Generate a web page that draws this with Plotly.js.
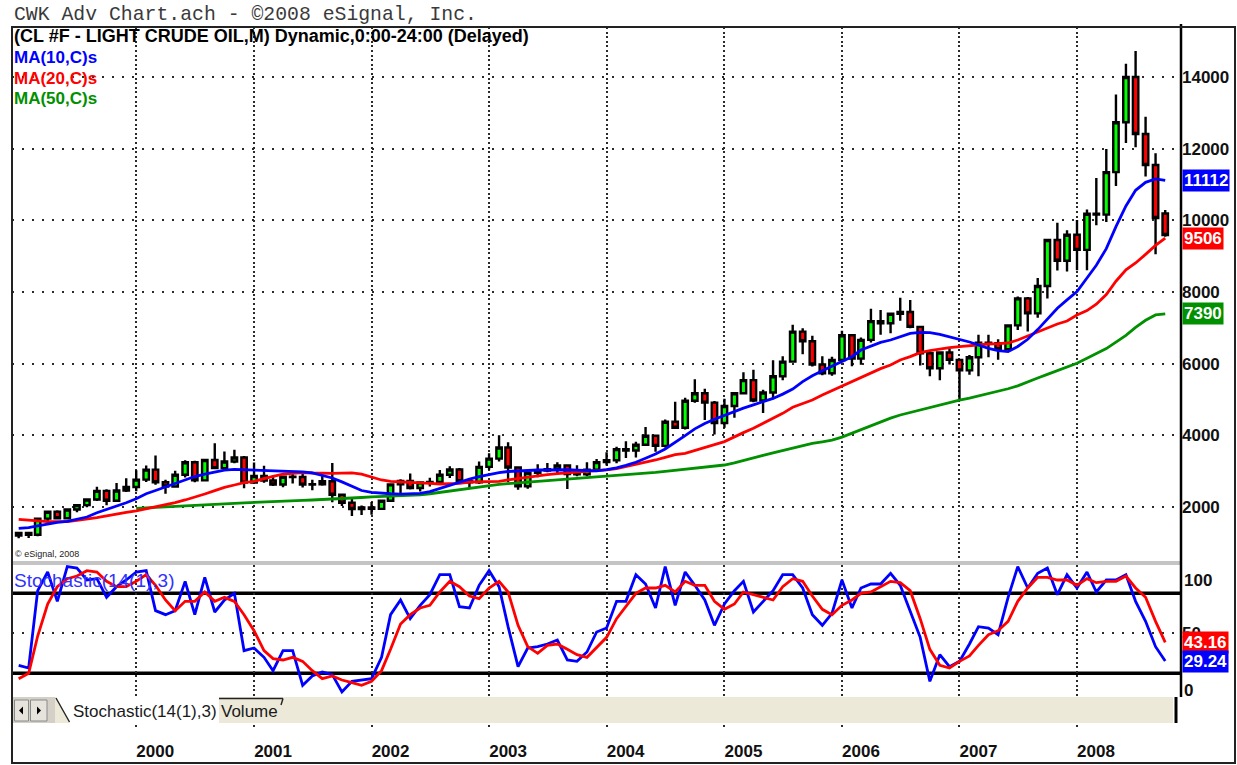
<!DOCTYPE html>
<html>
<head>
<meta charset="utf-8">
<script src="https://cdn.plot.ly/plotly-3.0.1.min.js"></script>
<style>
html,body{margin:0;padding:0;background:#fff;overflow:hidden;}
#chart{width:1237px;height:765px;}
</style>
</head>
<body>
<div id="chart"></div>
<script>
// ---------------- DATA (monthly, CL #F light crude oil, price in cents) ----------------
const months = [
'1999-01','1999-02','1999-03','1999-04','1999-05','1999-06','1999-07','1999-08','1999-09','1999-10','1999-11','1999-12',
'2000-01','2000-02','2000-03','2000-04','2000-05','2000-06','2000-07','2000-08','2000-09','2000-10','2000-11','2000-12',
'2001-01','2001-02','2001-03','2001-04','2001-05','2001-06','2001-07','2001-08','2001-09','2001-10','2001-11','2001-12',
'2002-01','2002-02','2002-03','2002-04','2002-05','2002-06','2002-07','2002-08','2002-09','2002-10','2002-11','2002-12',
'2003-01','2003-02','2003-03','2003-04','2003-05','2003-06','2003-07','2003-08','2003-09','2003-10','2003-11','2003-12',
'2004-01','2004-02','2004-03','2004-04','2004-05','2004-06','2004-07','2004-08','2004-09','2004-10','2004-11','2004-12',
'2005-01','2005-02','2005-03','2005-04','2005-05','2005-06','2005-07','2005-08','2005-09','2005-10','2005-11','2005-12',
'2006-01','2006-02','2006-03','2006-04','2006-05','2006-06','2006-07','2006-08','2006-09','2006-10','2006-11','2006-12',
'2007-01','2007-02','2007-03','2007-04','2007-05','2007-06','2007-07','2007-08','2007-09','2007-10','2007-11','2007-12',
'2008-01','2008-02','2008-03','2008-04','2008-05','2008-06','2008-07','2008-08','2008-09','2008-10'];

const openP = [
1205,1275,1227,1676,1866,1684,1929,2053,2210,2451,2175,2459,
2560,2764,3043,2690,2574,2901,3250,2743,3312,3084,3270,3382,
2680,2866,2739,2629,2846,2837,2625,2635,2720,2343,2118,1944,
1984,1948,2174,2631,2729,2531,2686,2702,2898,3045,2722,2689,
3120,3351,3660,3104,2580,2956,3019,3054,3157,2920,2911,3041,
3252,3305,3616,3576,3738,3988,3705,4380,4212,4964,5176,4913,
4345,4820,5175,5540,4972,5197,5650,6057,6894,6624,5976,5732,
6104,6792,6141,6663,7188,7129,7393,7440,7026,6291,5873,6313,
6105,5814,6179,6587,6571,6401,7068,7821,7404,8166,9453,8871,
9598,9175,10184,10158,11346,12735,14000,12408,11546,10190];
const highP = [
1307,1306,1683,1896,1910,1938,2085,2247,2565,2494,2670,2800,
3025,3158,3437,2760,3010,3305,3290,3340,3780,3550,3600,3420,
3240,3150,2880,2850,2998,2925,2760,2865,3230,2380,2280,2040,
2140,2190,2660,2775,2935,2700,2815,3035,3135,3090,2810,3270,
3500,3999,3810,3120,2990,3190,3230,3250,3160,3165,3250,3340,
3525,3680,3835,3820,4233,4000,4440,4940,5047,5567,5300,4960,
5020,5210,5760,5828,5270,6095,6210,7085,6990,6780,6210,6190,
6920,6820,6730,7535,7495,7415,7840,7780,7040,6380,6250,6410,
6120,6240,6810,6810,6680,7070,7877,7860,8390,9474,9929,9720,
10009,10305,11180,11993,13509,14367,14727,12890,11870,10290];
const lowP = [
1126,1137,1185,1542,1660,1680,1855,1990,2170,2050,2150,2420,
2438,2700,2620,2370,2550,2820,2690,2730,3110,3040,3220,2520,
2650,2680,2585,2550,2655,2545,2470,2590,2135,2030,1750,1780,
1785,1930,2140,2350,2490,2430,2570,2630,2810,2660,2500,2640,
3040,3270,2690,2480,2510,2830,2970,2900,2500,2860,2860,3000,
3160,3220,3365,3380,3730,3540,3660,4200,4160,4910,4430,4025,
4210,4490,5140,4920,4620,5010,5540,6060,6260,5920,5680,5665,
6080,5930,5970,6590,6810,6850,7200,6990,5950,5650,5540,5980,
4990,5690,5650,6180,6110,6400,6940,6900,7280,7820,8600,8570,
8610,8610,9865,9955,10960,12160,12040,11220,9050,9545];
const closeP = [
1275,1227,1676,1866,1684,1929,2053,2210,2451,2175,2459,2560,
2764,3043,2690,2574,2901,3250,2743,3312,3084,3270,3382,2680,
2866,2739,2629,2846,2837,2625,2635,2720,2343,2118,1944,1984,
1948,2174,2631,2729,2531,2686,2702,2898,3045,2722,2689,3120,
3351,3660,3104,2580,2956,3019,3054,3157,2920,2911,3041,3252,
3305,3616,3576,3738,3988,3705,4380,4212,4964,5176,4913,4345,
4820,5175,5540,4972,5197,5650,6057,6894,6624,5976,5732,6104,
6792,6141,6663,7188,7129,7393,7440,7026,6291,5873,6313,6105,
5814,6179,6587,6571,6401,7068,7821,7404,8166,9453,8871,9598,
9175,10184,10158,11346,12735,14000,12408,11546,10064,9590];

const ma10 = [
1405,1425,1470,1530,1570,1600,1650,1720,1840,1930,2010,2120,
2230,2370,2460,2560,2660,2760,2850,2920,2980,3030,3050,3040,
3030,3015,3010,3010,3000,2980,2950,2890,2810,2700,2570,2460,
2410,2385,2370,2360,2360,2380,2430,2520,2620,2700,2780,2850,
2910,2960,2990,3010,3030,3033,3033,3040,3040,3030,3010,3010,
3040,3090,3160,3250,3360,3480,3620,3800,3990,4180,4330,4450,
4560,4660,4760,4850,4940,5030,5150,5290,5500,5660,5800,5935,
6075,6195,6380,6500,6595,6660,6750,6847,6875,6865,6820,6754,
6680,6605,6521,6428,6363,6335,6480,6680,6950,7250,7545,7780,
8010,8391,8745,9210,9824,10400,10838,11061,11154,11112];
const ma20 = [
1656,1637,1600,1591,1591,1591,1628,1656,1703,1749,1805,1851,
1889,1944,2000,2047,2121,2196,2289,2363,2456,2549,2614,2679,
2717,2800,2855,2920,2950,2960,2949,2940,2940,2945,2950,2915,
2828,2754,2717,2707,2698,2680,2661,2642,2642,2661,2698,2707,
2707,2717,2754,2791,2847,2875,2903,2931,2949,2968,2986,3014,
3033,3070,3126,3182,3247,3312,3386,3461,3498,3572,3656,3740,
3824,3963,4075,4196,4335,4475,4614,4782,4880,4986,5126,5247,
5377,5498,5619,5749,5861,5963,6102,6196,6307,6363,6410,6447,
6475,6502,6530,6549,6558,6577,6661,6772,6893,7005,7107,7191,
7359,7480,7660,7930,8300,8620,8810,9050,9300,9506];
const ma50 = [
null,null,null,null,null,null,null,null,null,null,null,null,
1963,1975,1990,2005,2015,2030,2045,2060,2070,2085,2100,2115,
2130,2145,2155,2165,2175,2185,2195,2205,2215,2230,2245,2265,
2280,2290,2300,2307,2318,2340,2370,2410,2450,2490,2530,2560,
2590,2630,2655,2675,2700,2720,2740,2755,2775,2795,2815,2840,
2860,2875,2890,2910,2940,2965,2995,3025,3055,3085,3110,3140,
3172,3230,3290,3360,3440,3510,3580,3650,3720,3777,3820,3865,
3950,4060,4170,4280,4380,4480,4568,4640,4710,4780,4850,4910,
4980,5040,5100,5150,5220,5300,5380,5500,5600,5700,5800,5898,
6010,6150,6280,6420,6600,6790,7010,7210,7360,7390];

const stochK = [
26,24,82,96,74,100,99,90,91,77,85,90,
96,97,67,64,67,89,64,92,66,75,80,37,
39,32,22,37,37,11,18,21,19,6,14,15,
16,32,64,75,61,71,79,94,94,70,69,86,
97,85,55,25,39,40,42,45,30,29,36,51,
54,74,74,94,87,69,100,71,96,86,75,56,
72,82,89,66,74,82,94,94,84,64,56,65,
90,69,84,87,87,95,86,67,47,14,34,25,
29,42,55,54,49,77,100,84,95,99,79,94,
84,96,81,90,90,94,74,59,40,29.24];
const stochD = [
16,20,48,72,85,91,93,97,96,89,85,85,
89,94,86,75,67,74,74,81,74,77,74,64,
52,37,31,30,32,29,22,16,18,15,13,11,
14,22,38,57,64,69,71,81,89,85,78,76,
84,89,81,56,40,35,41,42,38,34,32,39,
47,61,70,80,84,84,86,81,89,86,86,74,
68,72,81,79,77,75,85,91,89,78,68,64,
71,75,80,81,85,89,88,82,61,38,26,24,
29,33,41,49,52,59,74,84,92,92,90,90,
86,91,88,89,89,93,84,77,59,43.16];

const priceTicks = [2000,4000,6000,8000,10000,12000,14000];
const priceTickText = ['2000','4000','6000','8000','10000','12000','14000'];
const yearTicks = ['2000-01','2001-01','2002-01','2003-01','2004-01','2005-01','2006-01','2007-01','2008-01'];
const yearLabels = ['2000','2001','2002','2003','2004','2005','2006','2007','2008'];
const stochBands = [80,20];

// ---------------- LAYOUT HELPERS ----------------
const W = 1237, H = 765;
const X0 = 12, X1 = 1181;
const px = v => v / W;
const py = v => 1 - v / H;
const xRange = ['1998-12-11 06:00', '2008-11-19'];
const FONT = 'Liberation Sans, Arial, sans-serif';
const GRID = '#2a2a2a';

const traces = [
  {type:'candlestick', x:months, open:openP, high:highP, low:lowP, close:closeP,
   xaxis:'x', yaxis:'y', whiskerwidth:0, hoverinfo:'skip',
   increasing:{line:{color:'#000', width:2.4}, fillcolor:'#00ff00'},
   decreasing:{line:{color:'#000', width:2.4}, fillcolor:'#ff0000'}},
  {type:'scatter', mode:'lines', x:months, y:ma50, xaxis:'x', yaxis:'y',
   line:{color:'#009000', width:2.8}, hoverinfo:'skip', connectgaps:false},
  {type:'scatter', mode:'lines', x:months, y:ma20, xaxis:'x', yaxis:'y',
   line:{color:'#ff0000', width:2.8}, hoverinfo:'skip'},
  {type:'scatter', mode:'lines', x:months, y:ma10, xaxis:'x', yaxis:'y',
   line:{color:'#0000ff', width:2.8}, hoverinfo:'skip'},
  {type:'scatter', mode:'lines', x:months, y:stochK, xaxis:'x2', yaxis:'y2',
   line:{color:'#0000ff', width:2.8}, hoverinfo:'skip'},
  {type:'scatter', mode:'lines', x:months, y:stochD, xaxis:'x2', yaxis:'y2',
   line:{color:'#ff0000', width:2.8}, hoverinfo:'skip'},
  // empty trace so the bottom time-axis strip (x3/y3) is created
  {type:'scatter', mode:'markers', x:[], y:[], xaxis:'x3', yaxis:'y3', hoverinfo:'skip'}
];

const xCommon = {
  type:'date', range:xRange, domain:[px(X0), px(X1)],
  tickvals:yearTicks, showgrid:true, gridcolor:GRID, gridwidth:2, griddash:'2px,2.6px',
  zeroline:false, showline:false, ticks:'', fixedrange:true
};

const boldTick = {family:FONT, size:17, color:'#111', weight:'bold'};

const layout = {
  width:W, height:H, margin:{l:0, r:0, t:0, b:0},
  paper_bgcolor:'#fff', plot_bgcolor:'#fff', showlegend:false,
  boxgap:0.4, boxgroupgap:0,
  font:{family:FONT, color:'#111'},
  xaxis: Object.assign({}, xCommon, {anchor:'y', showticklabels:false, rangeslider:{visible:false}}),
  yaxis: {domain:[py(561), py(27)], range:[493, 15395], side:'right', anchor:'x',
          tickvals:priceTicks, ticktext:priceTickText, tickfont:boldTick,
          showgrid:true, gridcolor:GRID, gridwidth:2, griddash:'2px,8px',
          zeroline:false, showline:false, ticks:'', fixedrange:true},
  xaxis2: Object.assign({}, xCommon, {anchor:'y2', showticklabels:false}),
  yaxis2: {domain:[py(697), py(565)], range:[2.25, 101.25], side:'right', anchor:'x2',
           tickvals:[50], ticktext:['50'], tickfont:boldTick,
           showgrid:true, gridcolor:GRID, gridwidth:2, griddash:'2px,8px',
           zeroline:false, showline:false, ticks:'', fixedrange:true},
  xaxis3: Object.assign({}, xCommon, {anchor:'y3', side:'bottom', showticklabels:true, ticktext:yearLabels,
           tickfont:boldTick, ticklabelshift:19, ticklabelstandoff:12}),
  yaxis3: {domain:[py(727), py(697)], range:[0,1], anchor:'x3', showgrid:false,
           showticklabels:false, zeroline:false, showline:false, ticks:'', fixedrange:true},
  shapes:[],
  annotations:[]
};

// panel separator
layout.shapes.push({type:'rect', xref:'paper', yref:'paper', x0:px(X0), x1:px(X1), y0:py(565), y1:py(561),
  fillcolor:'#c4c4c4', line:{width:0}, layer:'above'});
// stochastic 80/20 bands
stochBands.forEach(v => layout.shapes.push({type:'line', xref:'paper', yref:'y2', x0:px(X0), x1:px(X1), y0:v, y1:v,
  line:{color:'#000', width:3.5}, layer:'below'}));
// tab bar
layout.shapes.push({type:'rect', xref:'paper', yref:'paper', x0:px(13), x1:px(1173), y0:py(723), y1:py(697),
  fillcolor:'#ece9d8', line:{width:0}, layer:'above'});
layout.shapes.push({type:'rect', xref:'paper', yref:'paper', x0:px(13), x1:px(55), y0:py(723), y1:py(697),
  fillcolor:'#d4d0c8', line:{width:0}, layer:'above'});
[[14.5,28.5],[30.5,47]].forEach(b => layout.shapes.push({type:'rect', xref:'paper', yref:'paper',
  x0:px(b[0]), x1:px(b[1]), y0:py(721), y1:py(700), fillcolor:'#e6e3dc', line:{color:'#8a8a8a', width:1}, layer:'above'}));
layout.shapes.push({type:'path', xref:'paper', yref:'paper', layer:'above', fillcolor:'#000', line:{width:0},
  path:`M ${px(19)} ${py(710.5)} L ${px(23)} ${py(706.5)} L ${px(23)} ${py(714.5)} Z`});
layout.shapes.push({type:'path', xref:'paper', yref:'paper', layer:'above', fillcolor:'#000', line:{width:0},
  path:`M ${px(41)} ${py(710.5)} L ${px(37)} ${py(706.5)} L ${px(37)} ${py(714.5)} Z`});
// active tab
layout.shapes.push({type:'path', xref:'paper', yref:'paper', layer:'above', fillcolor:'#fff', line:{width:0},
  path:`M ${px(56)} ${py(697)} L ${px(70)} ${py(723)} L ${px(219)} ${py(723)} L ${px(219)} ${py(697)} Z`});
layout.shapes.push({type:'line', xref:'paper', yref:'paper', x0:px(56), y0:py(698), x1:px(69.5), y1:py(722),
  line:{color:'#222', width:1.4}, layer:'above'});
layout.shapes.push({type:'line', xref:'paper', yref:'paper', x0:px(219), y0:py(698.5), x1:px(283), y1:py(698.5),
  line:{color:'#222', width:1.4}, layer:'above'});
layout.shapes.push({type:'line', xref:'paper', yref:'paper', x0:px(283), y0:py(698.5), x1:px(281), y1:py(705),
  line:{color:'#222', width:1.4}, layer:'above'});
layout.shapes.push({type:'line', xref:'paper', yref:'paper', x0:px(1176), y0:py(697), x1:px(1176), y1:py(723),
  line:{color:'#000', width:3}, layer:'above'});
// right price axis line
layout.shapes.push({type:'line', xref:'paper', yref:'paper', x0:px(X1), y0:py(24), x1:px(X1), y1:py(697),
  line:{color:'#000', width:2.5}, layer:'above'});
// outer frame
layout.shapes.push({type:'rect', xref:'paper', yref:'paper', x0:px(12), x1:px(1235), y0:py(763), y1:py(27),
  line:{color:'#222', width:2}, fillcolor:'rgba(0,0,0,0)', layer:'above'});

function note(x, y, text, size, color, extra) {
  layout.annotations.push(Object.assign({xref:'paper', yref:'paper', x:px(x), y:py(y), text:text,
    showarrow:false, xanchor:'left', yanchor:'middle', font:{family:FONT, size:size, color:color}}, extra || {}));
}
note(12, 15, 'CWK Adv Chart.ach - ©2008 eSignal, Inc.', 19.8, '#3a3a3a', {font:{family:'Liberation Mono, Courier New, monospace', size:19.8, color:'#3a3a3a'}});
note(12, 36, '<b>(CL #F - LIGHT CRUDE OIL,M) Dynamic,0:00-24:00 (Delayed)</b>', 18, '#000');
note(12, 58, '<b>MA(10,C)s</b>', 17, '#0000ff');
note(12, 79, '<b>MA(20,C)s</b>', 17, '#ff0000');
note(12, 99, '<b>MA(50,C)s</b>', 17, '#009000');
note(13, 554, '© eSignal, 2008', 9, '#222');
note(12, 580, 'Stochastic(14(1),3)', 19, 'rgb(50,50,255)');
note(1182, 580, '<b>100</b>', 17, '#111');
note(1182, 690, '<b>0</b>', 17, '#111');
note(71, 711, 'Stochastic(14(1),3)', 17, '#1a1a1a');
note(219, 711, 'Volume', 17, '#1a1a1a');

function valueBox(yref, y, text, bg) {
  layout.annotations.push({xref:'paper', yref:yref, x:px(1182), y:y, text:'<b>' + text + '</b>',
    showarrow:false, xanchor:'left', yanchor:'middle', bgcolor:bg, borderpad:1,
    font:{family:FONT, size:17, color:'#fff'}});
}
valueBox('y', ma10[ma10.length-1], String(ma10[ma10.length-1]), '#0000ff');
valueBox('y', ma20[ma20.length-1], String(ma20[ma20.length-1]), '#ff0000');
valueBox('y', ma50[ma50.length-1], String(ma50[ma50.length-1]), '#009000');
valueBox('y2', stochD[stochD.length-1], stochD[stochD.length-1].toFixed(2), '#ff0000');
valueBox('y2', stochK[stochK.length-1], stochK[stochK.length-1].toFixed(2), '#0000ff');

Plotly.newPlot('chart', traces, layout, {staticPlot:true, displayModeBar:false});
</script>
</body>
</html>
